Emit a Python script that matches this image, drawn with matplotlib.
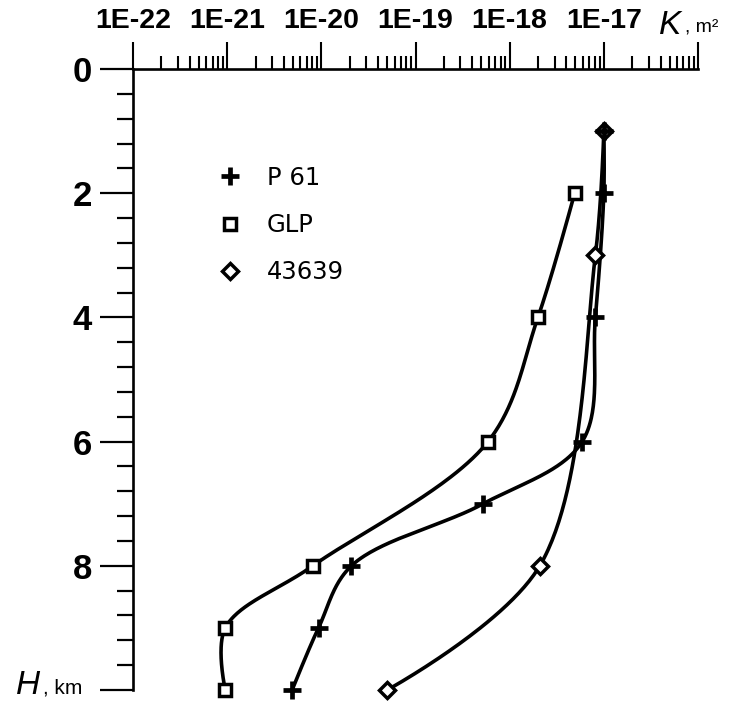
import numpy as np
import matplotlib
matplotlib.use("Agg")
import matplotlib.pyplot as plt
from matplotlib.lines import Line2D
from matplotlib.ticker import LogLocator, FixedLocator, NullFormatter, FixedFormatter

plt.rcParams['font.family'] = ['Liberation Sans', 'DejaVu Sans']

# ---- data (depth H in km, log10 of permeability K in m^2) ----
p61_H = [1, 2, 4, 6, 7, 8, 9, 10]
p61_logK = [-17.0, -17.0, -17.09, -17.23, -18.28, -19.68, -20.03, -20.31]

glp_H = [2, 4, 6, 8, 9, 10]
glp_logK = [-17.31, -17.70, -18.23, -20.09, -21.02, -21.02]

s43639_H = [1, 3, 8, 10]
s43639_logK = [-17.0, -17.09, -17.68, -19.30]

legend_labels = ['P 61', 'GLP', '43639']
x_tick_labels = ['1E-22', '1E-21', '1E-20', '1E-19', '1E-18', '1E-17', '']
y_major = [0, 2, 4, 6, 8, 10]
y_labels = ['0', '2', '4', '6', '8', '']

W, Hpx = 733, 702
# pixels per decade / per km in the chart, used only to smooth curves evenly
SX, SY = 94.0, 62.0


def smooth_curve(h, logk, alpha=0.5, n=60):
    """Centripetal Catmull-Rom curve through the measured points."""
    P = np.column_stack([SX * np.asarray(logk, float), SY * np.asarray(h, float)])
    P = np.vstack([P[0], P, P[-1]])
    out = []
    for i in range(1, len(P) - 2):
        p0, p1, p2, p3 = P[i - 1], P[i], P[i + 1], P[i + 2]

        def tj(ti, a, b):
            return ti + max(np.linalg.norm(b - a), 1e-6) ** alpha
        t0 = 0.0
        t1 = tj(t0, p0, p1)
        t2 = tj(t1, p1, p2)
        t3 = tj(t2, p2, p3)
        t = np.linspace(t1, t2, n)[:, None]
        A1 = (t1 - t) / (t1 - t0) * p0 + (t - t0) / (t1 - t0) * p1
        A2 = (t2 - t) / (t2 - t1) * p1 + (t - t1) / (t2 - t1) * p2
        A3 = (t3 - t) / (t3 - t2) * p2 + (t - t2) / (t3 - t2) * p3
        B1 = (t2 - t) / (t2 - t0) * A1 + (t - t0) / (t2 - t0) * A2
        B2 = (t3 - t) / (t3 - t1) * A2 + (t - t1) / (t3 - t1) * A3
        out.append((t2 - t) / (t2 - t1) * B1 + (t - t1) / (t2 - t1) * B2)
    C = np.vstack(out)
    return C[:, 0] / SX, C[:, 1] / SY


fig = plt.figure(figsize=(W / 100, Hpx / 100), dpi=100)
ax = fig.add_axes([133 / W, 1 - 690 / Hpx, (698 - 133) / W, (690 - 69) / Hpx])

lw = 2.6
for H, lk in [(p61_H, p61_logK), (glp_H, glp_logK), (s43639_H, s43639_logK)]:
    ks, hs = smooth_curve(H, lk)
    ax.plot(10 ** ks, hs, color='black', lw=lw, zorder=2, solid_capstyle='round',
            clip_on=False)

plus_kw = dict(marker='+', ms=13, mew=3.4, color='black', ls='none', zorder=4, clip_on=False)
sq_kw = dict(marker='s', ms=8.5, mew=2.5, mfc='white', mec='black', ls='none', zorder=3, clip_on=False)
di_kw = dict(marker='D', ms=8, mew=2.5, mfc='white', mec='black', ls='none', zorder=3, clip_on=False)

ax.plot(10 ** np.array(s43639_logK), s43639_H, **di_kw)
ax.plot(10 ** np.array(glp_logK), glp_H, **sq_kw)
ax.plot(10 ** np.array(p61_logK), p61_H, **plus_kw)

ax.set_xscale('log')
ax.set_xlim(1e-22, 1e-16)
ax.set_ylim(10, 0)

for s in ['right', 'bottom']:
    ax.spines[s].set_visible(False)
for s in ['top', 'left']:
    ax.spines[s].set_linewidth(1.9)
    ax.spines[s].set_zorder(1)

ax.xaxis.tick_top()
ax.xaxis.set_major_locator(FixedLocator([10.0 ** e for e in range(-22, -15)]))
ax.xaxis.set_major_formatter(FixedFormatter(x_tick_labels))
ax.xaxis.set_minor_locator(LogLocator(base=10, subs=np.arange(2, 10), numticks=100))
ax.xaxis.set_minor_formatter(NullFormatter())
ax.tick_params(axis='x', which='major', direction='out', length=19.5, width=1.5,
               pad=6, labelsize=20.5)
ax.tick_params(axis='x', which='minor', direction='out', length=9.5, width=1.5)
for t in ax.get_xticklabels():
    t.set_fontweight('bold')

ax.yaxis.set_major_locator(FixedLocator(y_major))
ax.yaxis.set_major_formatter(FixedFormatter(y_labels))
minor_y = [round(v, 1) for v in np.arange(0.4, 10.0, 0.4) if abs(v / 2 - round(v / 2)) > 1e-6]
ax.yaxis.set_minor_locator(FixedLocator(minor_y))
ax.tick_params(axis='y', which='major', direction='out', length=24, width=1.6,
               pad=5.5, labelsize=25)
ax.tick_params(axis='y', which='minor', direction='out', length=11.5, width=1.6)
for t in ax.get_yticklabels():
    t.set_fontweight('bold')

# axis titles placed where the last tick labels would be
fig.text(659 / W, 1 - 25 / Hpx, 'K', fontsize=24, style='italic', ha='left', va='center')
fig.text(685 / W, 1 - 28 / Hpx, ', m²', fontsize=14, ha='left', va='center')
fig.text(16 / W, 1 - 685 / Hpx, 'H', fontsize=24, style='italic', ha='left', va='center')
fig.text(43 / W, 1 - 688 / Hpx, ', km', fontsize=15, ha='left', va='center')

handles = [Line2D([], [], **plus_kw), Line2D([], [], **sq_kw), Line2D([], [], **di_kw)]
leg = ax.legend(handles, legend_labels, loc='upper left',
                bbox_to_anchor=(218 / W, 1 - 166 / Hpx), bbox_transform=fig.transFigure,
                frameon=False, prop={'family': 'DejaVu Sans', 'size': 17.5},
                handlelength=1.0, handletextpad=1.0,
                labelspacing=0.95, borderaxespad=0, borderpad=0)

fig.savefig('out.png', dpi=100, facecolor='white')
